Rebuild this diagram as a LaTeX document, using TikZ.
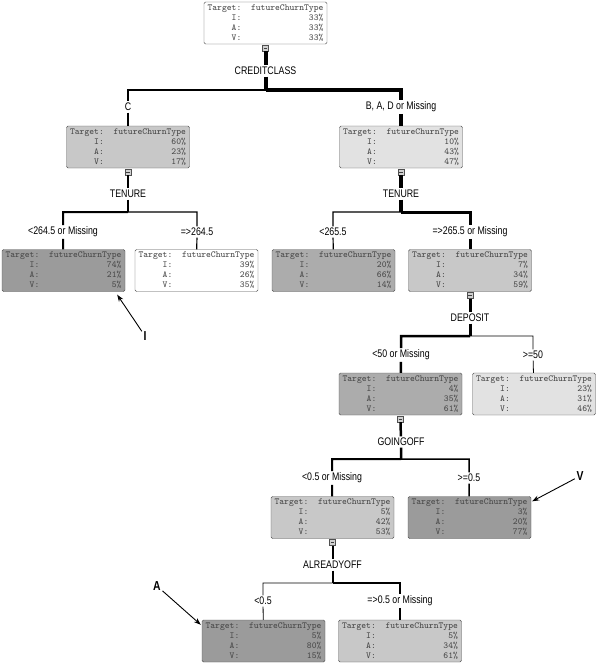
\documentclass[tikz,border=0pt]{standalone}
\usepackage{fontspec}
\newfontfamily\treelbl{Liberation Sans}[FakeStretch=0.8]
\usetikzlibrary{arrows.meta,calc}
\definecolor{bordr}{RGB}{80,80,80}
\definecolor{boxtxt}{RGB}{70,70,70}
\definecolor{shdark}{RGB}{155,155,155}
\definecolor{shmid}{RGB}{172,172,172}
\definecolor{shlight}{RGB}{200,200,200}
\definecolor{shpale}{RGB}{226,226,226}
% class distribution shown in every tree node
\newcommand{\dist}[3]{\begin{tabular}{@{}r@{\hspace{1.05em}}r@{}}
  Target:&futureChurnType\\ I:&#1\%\\ A:&#2\%\\ V:&#3\%\end{tabular}}

\begin{document}
\begin{tikzpicture}[x=1pt,y=-1pt,
  every node/.style={font=\treelbl\fontsize{11}{12}\selectfont,inner sep=1.5pt},
  dt/.style={draw=bordr,rounded corners=1.5pt,minimum width=123pt,
    minimum height=42pt,inner sep=0pt,text=boxtxt,
    font=\ttfamily\fontsize{9.2}{10}\selectfont},
  mk/.style={draw=bordr,fill=black!18,minimum size=6pt,inner sep=0pt,
    path picture={\draw[black!75,line width=0.6pt]
      ([xshift=1.2pt]path picture bounding box.west) --
      ([xshift=-1.2pt]path picture bounding box.east);}},
  an/.style={font=\treelbl\bfseries\fontsize{13}{14}\selectfont},
  ar/.style={-{Stealth[length=7pt,width=5pt]},line width=0.9pt}]
\useasboundingbox (0,0) rectangle (597,665);
% root split
\node[dt,fill=white] (n0) at (265.5,23) {\dist{33}{33}{33}};
\node[mk] (m0) at (265.5,48) {};
\node (s0) at (265.5,71) {CREDITCLASS};
\coordinate (j0) at (265.5,90);
\node (b1) at (128,107) {C};
\node (b2) at (401,107) {B, A, D or Missing};
\node[dt,fill=shlight] (n1) at (128,147) {\dist{60}{23}{17}};
\node[dt,fill=shpale] (n2) at (401,147) {\dist{10}{43}{47}};
% tenure splits
\node[mk] (m1) at (128,172) {}; \node[mk] (m2) at (401,172) {};
\node (s1) at (128,194) {TENURE}; \node (s2) at (401,194) {TENURE};
\coordinate (j1) at (128,212); \coordinate (j2) at (401,212);
\node (b3) at (63,232) {<264.5 or Missing};
\node (b4) at (197,232) {=>264.5};
\node (b5) at (333,232) {<265.5};
\node (b6) at (470,232) {=>265.5 or Missing};
\node[dt,fill=shdark] (n3) at (63.5,270.5) {\dist{74}{21}{5}};
\node[dt,fill=white] (n4) at (196.5,270.5) {\dist{39}{26}{35}};
\node[dt,fill=shmid] (n5) at (333.5,270.5) {\dist{20}{66}{14}};
\node[dt,fill=shlight] (n6) at (470,270.5) {\dist{7}{34}{59}};
% deposit
\node[mk] (m6) at (470,295.5) {};
\node (s6) at (470,318) {DEPOSIT};
\coordinate (j6) at (470,336);
\node (b7) at (401,355) {<50 or Missing};
\node (b8) at (533,355) {>=50};
\node[dt,fill=shmid] (n7) at (400.5,394) {\dist{4}{35}{61}};
\node[dt,fill=shpale] (n8) at (534,394) {\dist{23}{31}{46}};
% goingoff
\node[mk] (m7) at (400.5,419) {};
\node (s7) at (401,442) {GOINGOFF};
\coordinate (j7) at (401,459);
\node (b9) at (332,478) {<0.5 or Missing};
\node (b10) at (469,478) {>=0.5};
\node[dt,fill=shlight] (n9) at (332.5,517.5) {\dist{5}{42}{53}};
\node[dt,fill=shdark] (n10) at (469.5,517.5) {\dist{3}{20}{77}};
% alreadyoff
\node[mk] (m9) at (332.5,542.5) {};
\node (s9) at (332.5,565) {ALREADYOFF};
\coordinate (j9) at (332.5,583);
\node (b11) at (263,601) {<0.5};
\node (b12) at (400,601) {=>0.5 or Missing};
\node[dt,fill=shdark] (n11) at (263.5,641) {\dist{5}{80}{15}};
\node[dt,fill=shlight] (n12) at (400,641) {\dist{5}{34}{61}};
% connectors, width ~ share of records
\foreach \n/\w in {0/4,1/2.5,2/3.5,6/3,7/2.5,9/2}
  {\draw[line width=\w pt] (m\n) -- (s\n) -- (j\n);}
\foreach \j/\b/\w in {0/1/2.5,0/2/3.5,1/3/2,1/4/1.2,2/5/1.2,2/6/3,
  6/7/2.5,6/8/0.8,7/9/2,7/10/1.5,9/11/0.8,9/12/2}
  {\draw[line width=\w pt] (j\j) -| (b\b) -- (n\b);}
% callouts
\node[an] (lI) at (145,336) {I};
\node[an] (lV) at (580,476) {V};
\node[an] (lA) at (157,586) {A};
\draw[ar] (lI) -- ($(n3.south east)+(-8,3)$);
\draw[ar] (lV) -- ($(n10.north east)+(1,5)$);
\draw[ar] (lA) -- ($(n11.north west)+(-1,5)$);
\end{tikzpicture}
\end{document}
